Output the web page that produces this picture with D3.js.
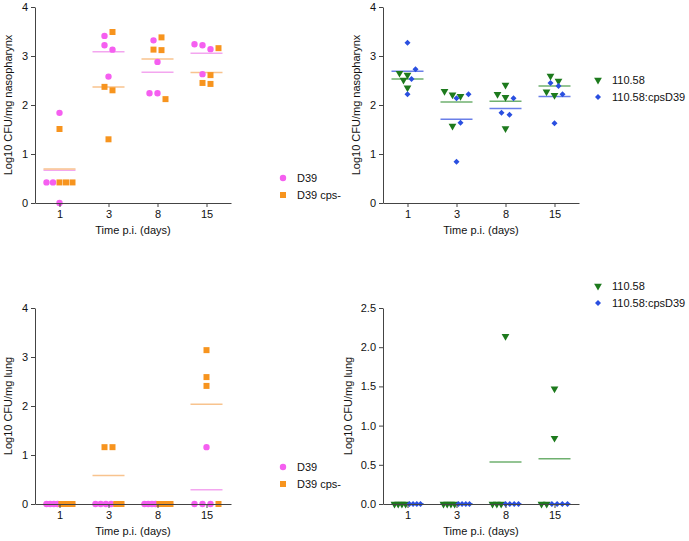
<!DOCTYPE html>
<html>
<head>
<meta charset="utf-8">
<script src="https://cdn.jsdelivr.net/npm/d3@7"></script>
<style>
  body { margin: 0; background: #fff; }
  svg { font-family: "Liberation Sans", Arial, sans-serif; }
  .axis path, .axis line { stroke: #444; }
  .axis text { font-size: 11px; fill: #111; }
</style>
</head>
<body>
<svg width="689" height="541"></svg>
<script>
// days post infection (x categories)
const days = ["1", "3", "8", "15"];

// Log10 CFU/mg nasopharynx, one list per day
const nasoD39    = [[1.84, 0, 0.42, 0.42], [3.41, 3.22, 3.13, 2.58], [3.32, 2.88, 2.24, 2.24], [3.22, 3.14, 3.24, 2.63]];
const nasoD39cps = [[1.51, 0.42, 0.42, 0.42], [3.49, 2.37, 2.30, 1.30], [3.38, 3.12, 3.13, 2.12], [3.16, 2.61, 2.43, 2.45]];
const naso110    = [[2.65, 2.51, 2.35, 2.61], [2.21, 2.28, 2.18, 1.57], [2.22, 2.41, 2.16, 1.52], [2.49, 2.59, 2.20, 2.27]];
const naso110cps = [[3.27, 2.73, 2.53, 2.22], [2.14, 2.22, 1.64, 0.84], [2.14, 1.84, 1.80], [2.22, 2.39, 2.45, 1.63]];

// Log10 CFU/mg lung
const lungD39    = [[0, 0, 0, 0], [0, 0, 0, 0], [0, 0, 0, 0], [1.16, 0, 0, 0]];
const lungD39cps = [[0, 0, 0, 0], [1.16, 1.16, 0, 0], [0, 0, 0, 0], [3.14, 2.59, 2.41, 0]];
const lung110    = [[0, 0, 0, 0], [0, 0, 0, 0], [2.14, 0, 0, 0], [1.47, 0.84, 0, 0]];
const lung110cps = [[0, 0, 0, 0], [0, 0, 0, 0], [0, 0, 0, 0], [0, 0, 0, 0]];

const yTicks4 = [0, 1, 2, 3, 4];
const yTicks25 = [0, 0.5, 1.0, 1.5, 2.0, 2.5];

const sD39    = {name: "D39",           color: "#f55ff0", line: "#f3a6ef", shape: "circle"};
const sD39cps = {name: "D39 cps-",      color: "#f7941e", line: "#f8c38e", shape: "square"};
const s110    = {name: "110.58",        color: "#1d7a1d", line: "#6fb06f", shape: "triangle"};
const s110cps = {name: "110.58:cpsD39", color: "#2a4fe0", line: "#6a7fe8", shape: "diamond"};

const svg = d3.select("svg");

function symbolPath(shape) {
  if (shape == "circle") return d3.symbol(d3.symbolCircle, 32)();
  if (shape == "square") return d3.symbol(d3.symbolSquare, 36)();
  if (shape == "triangle") return d3.symbol(d3.symbolTriangle, 26)();
  return d3.symbol(d3.symbolSquare, 18)();
}
function symbolRot(shape) {
  if (shape == "triangle") return " rotate(180)";
  if (shape == "diamond") return " rotate(45)";
  return "";
}

function drawPanel(cfg) {
  const x = d3.scalePoint().domain(days).range([cfg.left, cfg.right]).padding(0.5);
  const y = d3.scaleLinear().domain(cfg.domain).range([cfg.bottom, cfg.top]);

  const g = svg.append("g");

  // mean lines
  cfg.series.forEach(function(s, si) {
    s.data.forEach(function(vals, di) {
      const m = d3.mean(vals);
      g.append("line")
        .attr("x1", x(days[di]) - 16).attr("x2", x(days[di]) + 16)
        .attr("y1", y(m)).attr("y2", y(m))
        .attr("stroke", s.style.line).attr("stroke-width", 1.5);
    });
  });

  // scatter points arranged in rows
  days.forEach(function(day, di) {
    let pts = [];
    cfg.series.forEach(function(s, si) {
      s.data[di].forEach(function(v) { pts.push({v: v, s: s, si: si}); });
    });
    pts.sort(function(a, b) { return b.v - a.v || a.si - b.si; });
    const rows = [];
    pts.forEach(function(p) {
      const last = rows[rows.length - 1];
      if (last && Math.abs(y(last[0].v) - y(p.v)) < 6) last.push(p);
      else rows.push([p]);
    });
    rows.forEach(function(row) {
      row.sort(function(a, b) { return a.si - b.si; });
      const n = row.length;
      const step = n > 1 ? Math.min(8, 26 / (n - 1)) : 0;
      row.forEach(function(p, i) {
        const px = x(day) + (i - (n - 1) / 2) * step;
        g.append("path")
          .attr("d", symbolPath(p.s.style.shape))
          .attr("transform", "translate(" + px + "," + y(p.v) + ")" + symbolRot(p.s.style.shape))
          .attr("fill", p.s.style.color);
      });
    });
  });

  // axes
  g.append("g")
    .attr("class", "axis")
    .attr("transform", "translate(0," + cfg.bottom + ")")
    .call(d3.axisBottom(x).tickSize(4).tickPadding(3).tickSizeOuter(0));
  g.append("g")
    .attr("class", "axis")
    .attr("transform", "translate(" + cfg.left + ",0)")
    .call(d3.axisLeft(y).tickValues(cfg.ticks).tickFormat(cfg.fmt).tickSize(4).tickPadding(3).tickSizeOuter(0));

  g.append("text")
    .attr("x", (cfg.left + cfg.right) / 2).attr("y", cfg.bottom + 31)
    .attr("text-anchor", "middle").attr("font-size", 11).attr("fill", "#111")
    .text("Time p.i. (days)");
  g.append("text")
    .attr("transform", "translate(" + cfg.ytx + "," + (cfg.top + cfg.bottom) / 2 + ") rotate(-90)")
    .attr("text-anchor", "middle").attr("font-size", 11).attr("fill", "#111")
    .text(cfg.ylabel);

  // legend
  cfg.series.forEach(function(s, si) {
    const ly = cfg.legY + si * 17;
    g.append("path")
      .attr("d", symbolPath(s.style.shape))
      .attr("transform", "translate(" + cfg.legX + "," + ly + ")" + symbolRot(s.style.shape))
      .attr("fill", s.style.color);
    g.append("text")
      .attr("x", cfg.legX + 14).attr("y", ly + 4)
      .attr("font-size", 11).attr("fill", "#111")
      .text(s.style.name);
  });
}

drawPanel({
  left: 35, right: 231, top: 7, bottom: 203, domain: [0, 4], ticks: yTicks4, fmt: d3.format("d"),
  ylabel: "Log10 CFU/mg nasopharynx", ytx: 12, legX: 283, legY: 178,
  series: [{style: sD39, data: nasoD39}, {style: sD39cps, data: nasoD39cps}]
});
drawPanel({
  left: 383, right: 579, top: 7, bottom: 203, domain: [0, 4], ticks: yTicks4, fmt: d3.format("d"),
  ylabel: "Log10 CFU/mg nasopharynx", ytx: 360, legX: 598, legY: 80,
  series: [{style: s110, data: naso110}, {style: s110cps, data: naso110cps}]
});
drawPanel({
  left: 35, right: 231, top: 308, bottom: 504, domain: [0, 4], ticks: yTicks4, fmt: d3.format("d"),
  ylabel: "Log10 CFU/mg lung", ytx: 12, legX: 283, legY: 467,
  series: [{style: sD39, data: lungD39}, {style: sD39cps, data: lungD39cps}]
});
drawPanel({
  left: 383, right: 579, top: 308, bottom: 504, domain: [0, 2.5], ticks: yTicks25, fmt: d3.format(".1f"),
  ylabel: "Log10 CFU/mg lung", ytx: 352, legX: 598, legY: 286,
  series: [{style: s110, data: lung110}, {style: s110cps, data: lung110cps}]
});
</script>
</body>
</html>
